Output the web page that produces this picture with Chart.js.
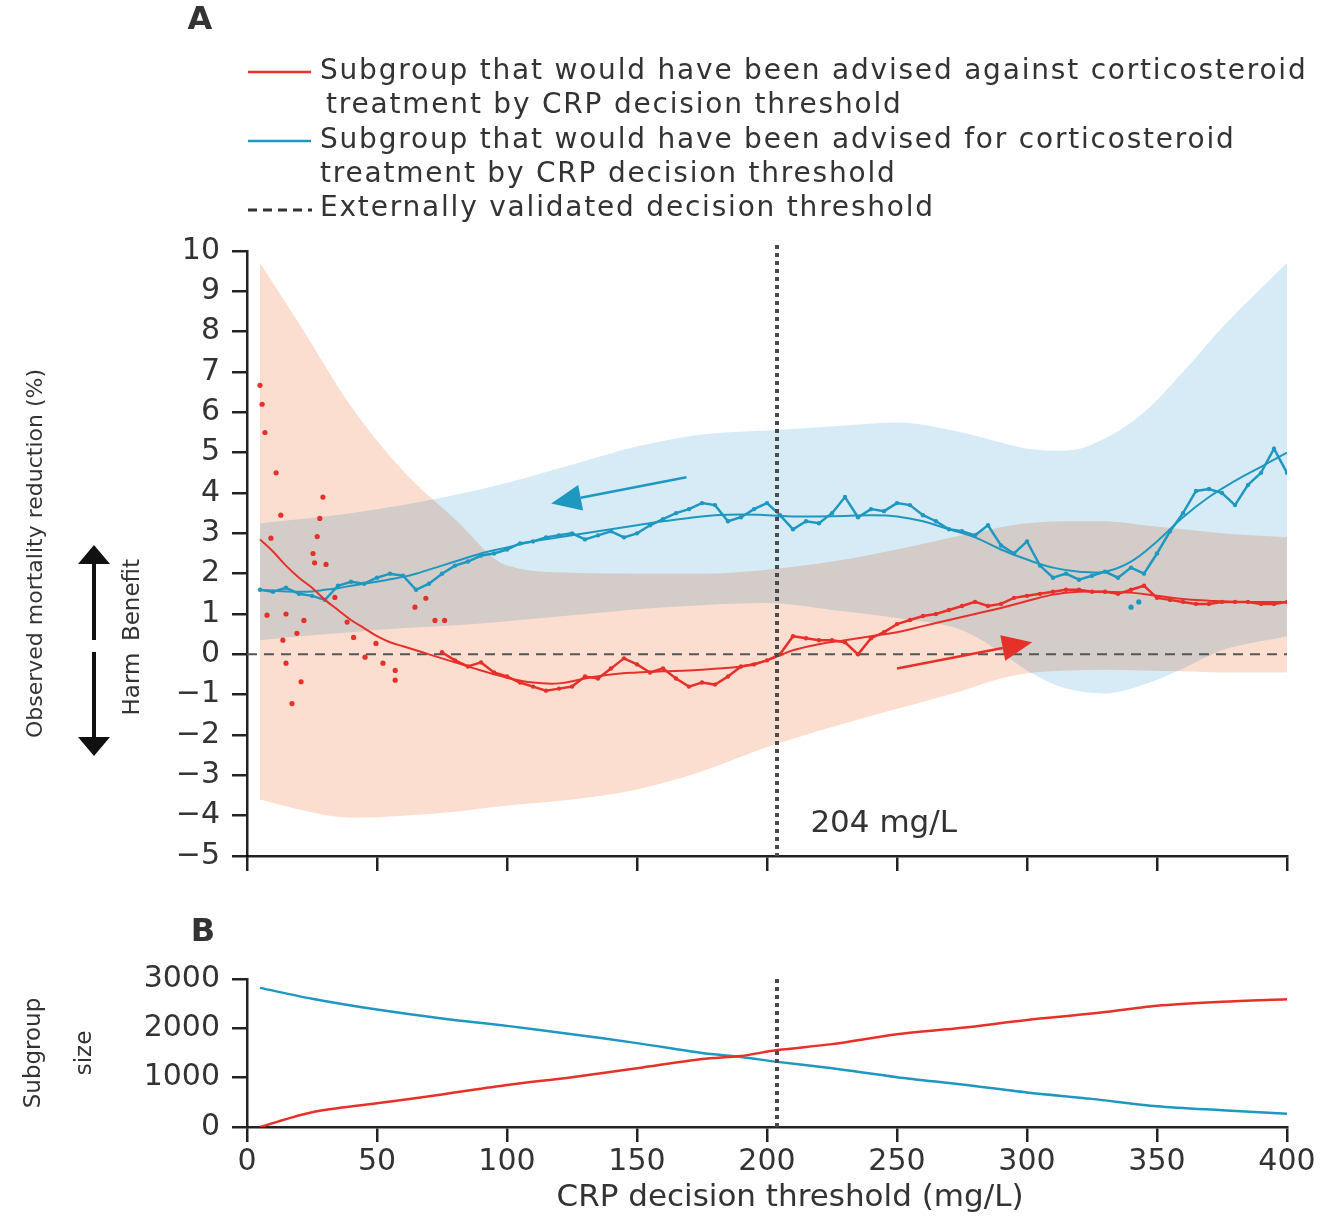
<!DOCTYPE html>
<html>
<head>
<meta charset="utf-8">
<title>CRP decision threshold</title>
<script src="https://cdn.jsdelivr.net/npm/chart.js@4.4.1/dist/chart.umd.min.js"></script>
<style>
  body { margin: 0; background: #fff; width: 1322px; height: 1218px; position: relative; overflow: hidden; }
  #chartA { position: absolute; left: 0; top: 0; }
  #chartB { position: absolute; left: 0; top: 900px; }
</style>
</head>
<body>
<canvas id="chartA" width="1322" height="900"></canvas>
<canvas id="chartB" width="1322" height="318"></canvas>
<script>
const FONT = '"DejaVu Sans", sans-serif';
const RED = '#e8302a';
const BLUE = '#1e98c0';
const TEXT = '#333';
const AXIS = '#222';

// CRP threshold used for the vertical marker (mg/L)
const threshold = 204;

// confidence bands, panel A
const bandX = [5, 20, 40, 60, 80, 100, 125, 150, 175, 200, 225, 250, 275, 290, 300, 315, 330, 345, 360, 375, 400];
const againstUpper = [9.7, 8.2, 6.15, 4.55, 3.35, 2.2, 2.02, 2.0, 2.0, 2.1, 2.3, 2.6, 2.95, 3.15, 3.25, 3.3, 3.3, 3.2, 3.1, 3.0, 2.9];
const againstLower = [-3.6, -3.85, -4.05, -4.0, -3.9, -3.75, -3.6, -3.35, -2.9, -2.3, -1.8, -1.35, -0.9, -0.6, -0.47, -0.4, -0.38, -0.4, -0.42, -0.45, -0.45];
const forUpper = [3.25, 3.35, 3.5, 3.7, 3.95, 4.25, 4.7, 5.15, 5.45, 5.55, 5.65, 5.75, 5.5, 5.25, 5.1, 5.05, 5.35, 6.0, 7.0, 8.1, 9.7];
const forLower = [0.35, 0.45, 0.55, 0.65, 0.72, 0.82, 0.97, 1.12, 1.22, 1.27, 1.1, 0.9, 0.6, 0.05, -0.4, -0.85, -0.97, -0.75, -0.35, 0.1, 0.45];

// smoothed curves
const fitX = [5, 10, 15, 20, 25, 30, 35, 40, 45, 50, 55, 60, 65, 70, 80, 90, 100, 110, 120, 130, 140, 150, 160, 170, 180, 190, 200,
  210, 220, 230, 240, 250, 260, 270, 280, 290, 300, 310, 320, 330, 340, 350, 360, 370, 380, 390, 400];
const againstFit = [2.85, 2.55, 2.2, 1.9, 1.65, 1.35, 1.1, 0.85, 0.65, 0.45, 0.3, 0.2, 0.1, 0.0, -0.2, -0.4, -0.58, -0.7, -0.72, -0.6, -0.5,
  -0.45, -0.42, -0.4, -0.36, -0.3, -0.15, 0.1, 0.25, 0.35, 0.45, 0.55, 0.7, 0.85, 1.0, 1.15, 1.32, 1.48, 1.55, 1.55, 1.53, 1.45, 1.37,
  1.33, 1.3, 1.3, 1.3];
const forFit = [1.6, 1.58, 1.56, 1.55, 1.56, 1.6, 1.64, 1.7, 1.75, 1.8, 1.86, 1.92, 2.0, 2.1, 2.3, 2.5, 2.65, 2.8, 2.9, 3.0, 3.1, 3.2,
  3.3, 3.38, 3.45, 3.47, 3.45, 3.42, 3.42, 3.43, 3.45, 3.42, 3.3, 3.1, 2.9, 2.6, 2.35, 2.15, 2.05, 2.05, 2.3, 2.8, 3.4, 3.9, 4.3, 4.65, 5.0];

// observed values every 5 mg/L
const rawX = [5, 10, 15, 20, 25, 30, 35, 40, 45, 50, 55, 60, 65, 70, 75, 80, 85, 90, 95, 100, 105, 110, 115, 120, 125, 130, 135, 140,
  145, 150, 155, 160, 165, 170, 175, 180, 185, 190, 195, 200, 205, 210, 215, 220, 225, 230, 235, 240, 245, 250, 255, 260, 265, 270,
  275, 280, 285, 290, 295, 300, 305, 310, 315, 320, 325, 330, 335, 340, 345, 350, 355, 360, 365, 370, 375, 380, 385, 390, 395, 400];
const againstRaw = [null, null, null, null, null, null, null, null, null, null, null, null, null, null,
  0.05, -0.15, -0.3, -0.2, -0.45, -0.55, -0.7, -0.8, -0.9, -0.85, -0.8, -0.55, -0.6, -0.35, -0.1, -0.25, -0.45, -0.35, -0.6, -0.8,
  -0.7, -0.75, -0.55, -0.3, -0.25, -0.15, 0.0, 0.45, 0.4, 0.35, 0.35, 0.3, 0.0, 0.4, 0.55, 0.75, 0.85, 0.95, 1.0, 1.1, 1.2, 1.3, 1.2,
  1.25, 1.4, 1.45, 1.5, 1.55, 1.6, 1.6, 1.55, 1.55, 1.5, 1.6, 1.7, 1.4, 1.35, 1.3, 1.25, 1.25, 1.3, 1.3, 1.3, 1.25, 1.25, 1.3];
const forRaw = [1.6, 1.55, 1.65, 1.5, 1.45, 1.35, 1.7, 1.8, 1.75, 1.9, 2.0, 1.95, 1.6, 1.75, 2.0, 2.2, 2.3, 2.45, 2.5, 2.6, 2.75, 2.8,
  2.9, 2.95, 3.0, 2.85, 2.95, 3.05, 2.9, 3.0, 3.2, 3.35, 3.5, 3.6, 3.75, 3.7, 3.3, 3.4, 3.6, 3.75, 3.45, 3.1, 3.3, 3.25, 3.5, 3.9,
  3.4, 3.6, 3.55, 3.75, 3.7, 3.45, 3.3, 3.1, 3.05, 2.95, 3.2, 2.7, 2.5, 2.8, 2.2, 1.9, 2.0, 1.85, 1.95, 2.05, 1.9, 2.15, 2.0, 2.5,
  3.05, 3.5, 4.05, 4.1, 4.0, 3.7, 4.2, 4.5, 5.1, 4.5];

// scattered observations at low thresholds
const againstDotX = [5, 5.8, 6.9, 11.2, 29.2, 13, 28, 27, 9.2, 25.4, 26, 30.4, 33.8, 7.7, 15, 21.9, 19.2, 13.8, 38.5, 41, 49.6,
  64.6, 68.8, 72.3, 76, 15, 20.8, 17.3, 45.4, 52.3, 57, 57];
const againstDotY = [6.67, 6.2, 5.5, 4.5, 3.9, 3.45, 3.37, 2.92, 2.88, 2.5, 2.27, 2.23, 1.41, 0.97, 1.0, 0.84, 0.52, 0.35, 0.8, 0.42,
  0.27, 1.17, 1.39, 0.84, 0.84, -0.22, -0.68, -1.22, -0.07, -0.22, -0.4, -0.64];
const forDotX = [340, 343];
const forDotY = [1.17, 1.3];

// panel B: subgroup sizes
const sizeX = [5, 25, 50, 75, 100, 125, 150, 175, 190, 204, 225, 250, 275, 300, 325, 350, 375, 400];
const againstSize = [0, 300, 480, 660, 850, 1010, 1190, 1380, 1440, 1560, 1680, 1880, 2010, 2170, 2300, 2460, 2540, 2590];
const forSize = [2820, 2600, 2380, 2200, 2050, 1880, 1700, 1500, 1420, 1320, 1190, 1010, 860, 700, 570, 420, 340, 270];

// direction arrows (data coordinates)
const forArrow = { from: [169, 4.39], to: [117, 3.74] };
const againstArrow = { from: [250, -0.35], to: [302, 0.3] };

const pts = (xs, ys) => xs.map((x, i) => ({ x: x, y: ys[i] }));
const minus = v => (v < 0 ? '\u2212' + Math.abs(v) : String(v));

function arrow(ctx, x1, y1, x2, y2, color, lw, headLen, headHalf) {
  const ang = Math.atan2(y2 - y1, x2 - x1);
  const bx = x2 - headLen * Math.cos(ang);
  const by = y2 - headLen * Math.sin(ang);
  ctx.save();
  ctx.setLineDash([]);
  ctx.strokeStyle = color;
  ctx.fillStyle = color;
  ctx.lineWidth = lw;
  ctx.beginPath();
  ctx.moveTo(x1, y1);
  ctx.lineTo(bx, by);
  ctx.stroke();
  ctx.beginPath();
  ctx.moveTo(x2, y2);
  ctx.lineTo(bx + headHalf * Math.sin(ang), by - headHalf * Math.cos(ang));
  ctx.lineTo(bx - headHalf * Math.sin(ang), by + headHalf * Math.cos(ang));
  ctx.closePath();
  ctx.fill();
  ctx.restore();
}

function thresholdLine(chart, extraTop) {
  const { ctx, chartArea, scales: { x } } = chart;
  const px = Math.round(x.getPixelForValue(threshold));
  ctx.save();
  ctx.strokeStyle = '#4a4a4a';
  ctx.lineWidth = 4;
  ctx.setLineDash([4, 4]);
  ctx.beginPath();
  ctx.moveTo(px, chartArea.top - extraTop);
  ctx.lineTo(px, chartArea.bottom);
  ctx.stroke();
  ctx.restore();
}

// bands are blended with multiply so the overlap turns grey
const bandBlend = {
  id: 'bandBlend',
  beforeDraw(chart) {
    const ctx = chart.ctx;
    ctx.save();
    ctx.fillStyle = '#fff';
    ctx.fillRect(0, 0, chart.width, chart.height);
    ctx.restore();
    ctx.globalCompositeOperation = 'multiply';
  },
  beforeDatasetsDraw(chart) {
    const { ctx, chartArea, scales: { y } } = chart;
    ctx.globalCompositeOperation = 'source-over';
    const py = y.getPixelForValue(0);
    ctx.save();
    ctx.strokeStyle = '#555';
    ctx.lineWidth = 2;
    ctx.setLineDash([10, 7]);
    ctx.beginPath();
    ctx.moveTo(chartArea.left, py);
    ctx.lineTo(chartArea.right, py);
    ctx.stroke();
    ctx.restore();
  },
  afterDatasetsDraw(chart) {
    chart.ctx.globalCompositeOperation = 'source-over';
    thresholdLine(chart, 6);
  }
};

const panelAText = {
  id: 'panelAText',
  afterDraw(chart) {
    const { ctx, scales: { x, y } } = chart;
    ctx.save();
    ctx.fillStyle = TEXT;
    ctx.textBaseline = 'middle';

    ctx.font = 'bold 32px ' + FONT;
    ctx.textAlign = 'center';
    ctx.fillText('A', 200, 21);

    // legend
    ctx.textAlign = 'left';
    ctx.font = '28px ' + FONT;
    ctx.letterSpacing = '1.8px';
    ctx.fillText('Subgroup that would have been advised against corticosteroid', 320, 72);
    ctx.fillText('treatment by CRP decision threshold', 326, 106);
    ctx.fillText('Subgroup that would have been advised for corticosteroid', 320, 141);
    ctx.fillText('treatment by CRP decision threshold', 320, 175);
    ctx.fillText('Externally validated decision threshold', 320, 209);
    ctx.letterSpacing = '0px';
    ctx.lineWidth = 2.5;
    ctx.strokeStyle = RED;
    ctx.beginPath(); ctx.moveTo(248, 72); ctx.lineTo(311, 72); ctx.stroke();
    ctx.strokeStyle = BLUE;
    ctx.beginPath(); ctx.moveTo(248, 141); ctx.lineTo(311, 141); ctx.stroke();
    ctx.strokeStyle = '#333';
    ctx.lineWidth = 3;
    ctx.setLineDash([9, 6]);
    ctx.beginPath(); ctx.moveTo(248, 210); ctx.lineTo(312, 210); ctx.stroke();
    ctx.setLineDash([]);

    // benefit / harm
    arrow(ctx, 94, 640, 94, 545, '#111', 4, 19, 16);
    arrow(ctx, 94, 652, 94, 756, '#111', 4, 19, 16);
    ctx.font = '23px ' + FONT;
    ctx.textAlign = 'center';
    ctx.save(); ctx.translate(133, 600); ctx.rotate(-Math.PI / 2); ctx.fillText('Benefit', 0, 0); ctx.restore();
    ctx.save(); ctx.translate(133, 684); ctx.rotate(-Math.PI / 2); ctx.fillText('Harm', 0, 0); ctx.restore();

    // threshold label
    ctx.textAlign = 'left';
    ctx.font = '31px ' + FONT;
    ctx.fillText(threshold + ' mg/L', x.getPixelForValue(threshold) + 33, y.getPixelForValue(-4.2));

    // direction arrows
    arrow(ctx, x.getPixelForValue(forArrow.from[0]), y.getPixelForValue(forArrow.from[1]),
      x.getPixelForValue(forArrow.to[0]), y.getPixelForValue(forArrow.to[1]), BLUE, 2.5, 30, 13);
    arrow(ctx, x.getPixelForValue(againstArrow.from[0]), y.getPixelForValue(againstArrow.from[1]),
      x.getPixelForValue(againstArrow.to[0]), y.getPixelForValue(againstArrow.to[1]), RED, 2.5, 30, 13);
    ctx.restore();
  }
};

const panelBText = {
  id: 'panelBText',
  afterDatasetsDraw(chart) {
    thresholdLine(chart, 0);
  },
  afterDraw(chart) {
    const ctx = chart.ctx;
    ctx.save();
    ctx.fillStyle = TEXT;
    ctx.textBaseline = 'middle';
    ctx.textAlign = 'center';
    ctx.font = 'bold 32px ' + FONT;
    ctx.fillText('B', 203, 33);
    // x axis title
    ctx.font = '31px ' + FONT;
    ctx.fillText('CRP decision threshold (mg/L)', 790, 298);
    ctx.restore();
  }
};

Chart.defaults.font.family = FONT;
Chart.defaults.color = TEXT;

const axisGrid = { drawOnChartArea: false, drawTicks: true, tickLength: 15, color: AXIS, lineWidth: 2.5 };
const axisBorder = { color: AXIS, width: 2.5 };

const band = (data, color, fill) => ({
  data: data, borderWidth: 0, pointRadius: 0, backgroundColor: color, fill: fill,
  cubicInterpolationMode: 'monotone'
});

const chartA = new Chart(document.getElementById('chartA'), {
  type: 'line',
  data: {
    datasets: [
      band(pts(bandX, againstUpper), '#fcded0', '+1'),
      band(pts(bandX, againstLower), '#fcded0', false),
      band(pts(bandX, forUpper), '#d6ebf5', '+1'),
      band(pts(bandX, forLower), '#d6ebf5', false),
      { data: pts(fitX, againstFit), borderColor: RED, borderWidth: 2, pointRadius: 0, tension: 0.4, fill: false },
      { data: pts(fitX, forFit), borderColor: BLUE, borderWidth: 2, pointRadius: 0, tension: 0.4, fill: false },
      { data: pts(rawX, againstRaw), borderColor: RED, backgroundColor: RED, borderWidth: 2.5, pointRadius: 2.2,
        pointBorderWidth: 0, tension: 0, fill: false, spanGaps: false },
      { data: pts(rawX, forRaw), borderColor: BLUE, backgroundColor: BLUE, borderWidth: 2.5, pointRadius: 2.2,
        pointBorderWidth: 0, tension: 0, fill: false },
      { data: pts(againstDotX, againstDotY), showLine: false, pointRadius: 2.6, pointBorderWidth: 0,
        backgroundColor: RED, fill: false },
      { data: pts(forDotX, forDotY), showLine: false, pointRadius: 2.6, pointBorderWidth: 0,
        backgroundColor: BLUE, fill: false }
    ]
  },
  options: {
    responsive: false,
    animation: false,
    events: [],
    layout: { padding: { top: 251, right: 35, left: 0, bottom: 0 } },
    plugins: {
      legend: { display: false },
      tooltip: { enabled: false },
      filler: { drawTime: 'beforeDatasetsDraw' }
    },
    scales: {
      x: {
        type: 'linear', min: 0, max: 400,
        ticks: { stepSize: 50, display: false },
        grid: axisGrid, border: axisBorder,
        afterFit: s => { s.height = 44; }
      },
      y: {
        min: -5, max: 10,
        ticks: { stepSize: 1, padding: 12, color: TEXT, font: { size: 30 }, callback: minus },
        grid: axisGrid, border: axisBorder,
        title: { display: true, text: 'Observed mortality reduction (%)', color: TEXT, font: { size: 22 },
          padding: { top: 23, bottom: 0 } },
        afterFit: s => { s.width = 247; }
      }
    }
  },
  plugins: [bandBlend, panelAText]
});

const chartB = new Chart(document.getElementById('chartB'), {
  type: 'line',
  data: {
    datasets: [
      { data: pts(sizeX, againstSize), borderColor: RED, borderWidth: 2.5, pointRadius: 0, tension: 0.3, fill: false },
      { data: pts(sizeX, forSize), borderColor: BLUE, borderWidth: 2.5, pointRadius: 0, tension: 0.3, fill: false }
    ]
  },
  options: {
    responsive: false,
    animation: false,
    events: [],
    layout: { padding: { top: 79, right: 35, left: 0, bottom: 0 } },
    plugins: { legend: { display: false }, tooltip: { enabled: false } },
    scales: {
      x: {
        type: 'linear', min: 0, max: 400,
        ticks: { stepSize: 50, padding: 2, color: TEXT, font: { size: 30 } },
        grid: axisGrid, border: axisBorder,
        afterFit: s => { s.height = 91; }
      },
      y: {
        min: 0, max: 3000,
        ticks: { stepSize: 1000, padding: 12, color: TEXT, font: { size: 30 }, callback: v => String(v) },
        grid: axisGrid, border: axisBorder,
        title: { display: true, text: ['Subgroup', 'size'], color: TEXT, font: { size: 23, lineHeight: 2.2 },
          padding: { top: 9, bottom: 0 } },
        afterFit: s => { s.width = 247; }
      }
    }
  },
  plugins: [panelBText]
});
</script>
</body>
</html>
